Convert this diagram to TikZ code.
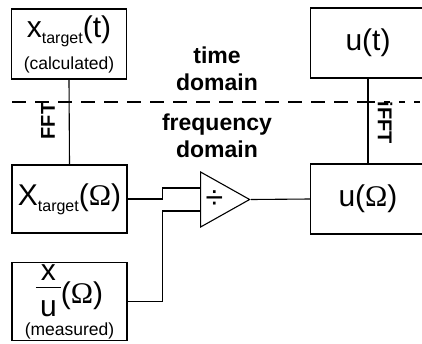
\documentclass[tikz,border=0pt]{standalone}
\usepackage{fontspec}
\setmainfont{Liberation Sans}
\newfontfamily\omegafont{Liberation Serif}
\usetikzlibrary{positioning,calc,shapes.geometric}

% subscript used in the target signal names
\newcommand{\tgtsub}{\raisebox{-6pt}{\fontsize{16}{16}\selectfont target}}
\newcommand{\om}{{\omegafont Ω}}

\begin{document}
\begin{tikzpicture}[
    x=1pt, y=-1pt,
    blk/.style={
      draw, line width=1.1pt, minimum width=115pt, minimum height=70pt,
      inner sep=0pt, align=center, font=\fontsize{30}{32}\selectfont,
    },
    lbl/.style={font=\fontsize{23}{27}\selectfont\bfseries, align=center},
    xform/.style={font=\fontsize{20}{20}\selectfont\bfseries, inner sep=0pt},
    wire/.style={line width=1.1pt},
    sep/.style={line width=1.1pt, dash pattern=on 14pt off 9pt},
  ]
    \useasboundingbox (0,0) rectangle (422,343);
    \clip (0,0) rectangle (422,343);

    % ===== time domain =====
    \node[blk] (xt) at (69,44) {%
      x\tgtsub(t)\\[0pt]
      {\fontsize{17.5}{18}\selectfont (calculated)}};
    \node[blk] (ut) at (368,43) {u(t)};

    % ===== domain split =====
    \draw[sep] (12,102) -- (369,102);
    \draw[line width=1.1pt, dash pattern=on 6pt off 9pt] (369,102) -- (422,102);
    \node[lbl] (td) at (217,69) {time\\domain};
    \node[lbl] (fd) at (217,136) {frequency\\domain};

    % ===== frequency domain =====
    \node[blk, minimum height=68pt] (Xw) at (69.5,199) {X\tgtsub(\om)};
    \node[blk, minimum height=78pt] (xu) at (69.5,301.5) {%
      \raisebox{-13pt}{\shortstack{x\\[4pt]\rule{25pt}{1.1pt}\\[9pt]u}}(\om)\\
      {\fontsize{17.5}{18}\selectfont (measured)}};
    \node[blk, minimum height=70pt] (uw) at (368,199) {u(\om)};

    \node[isosceles triangle, isosceles triangle stretches, draw, line width=1.1pt,
      minimum width=55pt, minimum height=49pt, inner sep=0pt,
      font=\fontsize{32}{32}\selectfont] (div) at (214.5,199.5) {÷};

    % ===== transforms =====
    \draw[wire] (xt.south) -- (Xw.north);
    \draw[wire] (ut.south) -- (uw.north);
    \node[xform, rotate=90] (fft) at (48,121) {FFT};
    \node[xform, rotate=-90] (ifft) at (385,123) {iFFT};

    % ===== division =====
    \draw[wire] (Xw.east) -- ++(35,0) |- ($(div.west)+(0,-11.5)$);
    \draw[wire] (xu.east) -- ++(35,0) |- ($(div.west)+(0,11.5)$);
    \draw[wire] (div.apex) -- (uw.west);
  \end{tikzpicture}
\end{document}
